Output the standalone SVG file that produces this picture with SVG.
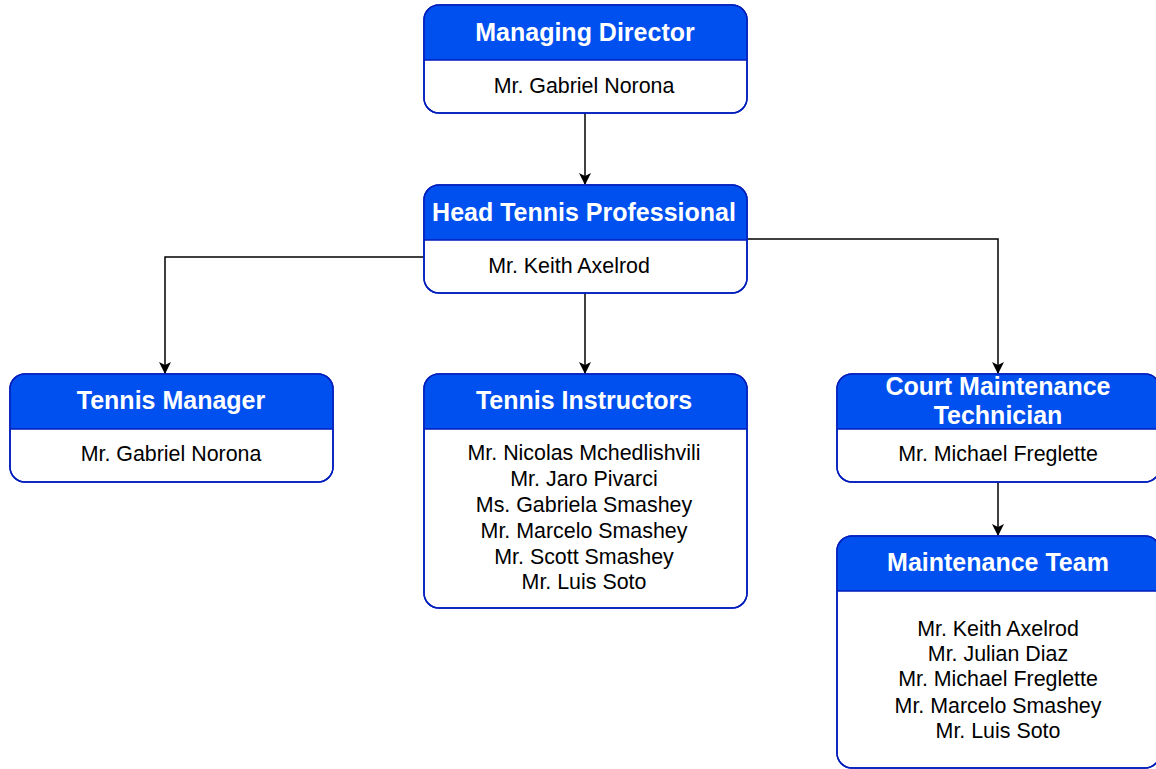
<svg xmlns="http://www.w3.org/2000/svg" width="1156" height="769" viewBox="0 0 1156 769">
<defs>
<style>
.box{fill:#ffffff;stroke:#001DBC;stroke-width:1.5}
.hdr{fill:#0050EF}
.sep{stroke:#001DBC;stroke-width:1.5}
.ht{font-family:"Liberation Sans",Arial,sans-serif;font-size:25px;font-weight:bold;fill:#ffffff;text-anchor:middle}
.bt{font-family:"Liberation Sans",Arial,sans-serif;font-size:21.4px;fill:#000000;text-anchor:middle}
.edge{fill:none;stroke:#000000;stroke-width:1.5}
</style>
<marker id="arr" viewBox="0 0 12 12" refX="11" refY="6" markerWidth="12" markerHeight="12" markerUnits="userSpaceOnUse" orient="auto">
<path d="M0,0 L12,6 L0,12 L3,6 Z" fill="#000"/>
</marker>
<clipPath id="c1"><rect x="424" y="5" width="323" height="108" rx="15"/></clipPath>
<clipPath id="c2"><rect x="424" y="185" width="323" height="108" rx="15"/></clipPath>
<clipPath id="c3"><rect x="10" y="374" width="323" height="108" rx="15"/></clipPath>
<clipPath id="c4"><rect x="424" y="374" width="323" height="234" rx="15"/></clipPath>
<clipPath id="c5"><rect x="837" y="374" width="323" height="108" rx="15"/></clipPath>
<clipPath id="c6"><rect x="837" y="536" width="323" height="232" rx="15"/></clipPath>
</defs>
<g id="connectors">
<path class="edge" d="M585,113 L585,184" marker-end="url(#arr)"/>
<path class="edge" d="M424,257 L165,257 L165,373" marker-end="url(#arr)"/>
<path class="edge" d="M585,293 L585,373" marker-end="url(#arr)"/>
<path class="edge" d="M747,239 L998,239 L998,373" marker-end="url(#arr)"/>
<path class="edge" d="M998,482 L998,535" marker-end="url(#arr)"/>
</g>
<g id="managing-director">
<rect class="box" x="424" y="5" width="323" height="108" rx="15"/>
<rect class="hdr" x="424" y="5" width="323" height="55" clip-path="url(#c1)"/>
<rect x="424" y="5" width="323" height="108" rx="15" fill="none" stroke="#001DBC" stroke-width="1.5"/>
<line class="sep" x1="424" y1="60" x2="747" y2="60"/>
<text class="ht" x="585" y="41">Managing Director</text>
<text class="bt" x="584" y="93">Mr. Gabriel Norona</text>
</g>
<g id="head-tennis-professional">
<rect class="box" x="424" y="185" width="323" height="108" rx="15"/>
<rect class="hdr" x="424" y="185" width="323" height="55" clip-path="url(#c2)"/>
<rect x="424" y="185" width="323" height="108" rx="15" fill="none" stroke="#001DBC" stroke-width="1.5"/>
<line class="sep" x1="424" y1="240" x2="747" y2="240"/>
<text class="ht" x="584" y="221">Head Tennis Professional</text>
<text class="bt" x="569" y="273">Mr. Keith Axelrod</text>
</g>
<g id="tennis-manager">
<rect class="box" x="10" y="374" width="323" height="108" rx="15"/>
<rect class="hdr" x="10" y="374" width="323" height="55" clip-path="url(#c3)"/>
<rect x="10" y="374" width="323" height="108" rx="15" fill="none" stroke="#001DBC" stroke-width="1.5"/>
<line class="sep" x1="10" y1="429" x2="333" y2="429"/>
<text class="ht" x="171" y="409">Tennis Manager</text>
<text class="bt" x="171" y="461">Mr. Gabriel Norona</text>
</g>
<g id="tennis-instructors">
<rect class="box" x="424" y="374" width="323" height="234" rx="15"/>
<rect class="hdr" x="424" y="374" width="323" height="55" clip-path="url(#c4)"/>
<rect x="424" y="374" width="323" height="234" rx="15" fill="none" stroke="#001DBC" stroke-width="1.5"/>
<line class="sep" x1="424" y1="429" x2="747" y2="429"/>
<text class="ht" x="584" y="409">Tennis Instructors</text>
<text class="bt" x="584" y="460">Mr. Nicolas Mchedlishvili</text>
<text class="bt" x="584" y="486">Mr. Jaro Pivarci</text>
<text class="bt" x="584" y="512">Ms. Gabriela Smashey</text>
<text class="bt" x="584" y="538">Mr. Marcelo Smashey</text>
<text class="bt" x="584" y="564">Mr. Scott Smashey</text>
<text class="bt" x="584" y="589">Mr. Luis Soto</text>
</g>
<g id="court-maintenance-technician">
<rect class="box" x="837" y="374" width="323" height="108" rx="15"/>
<rect class="hdr" x="837" y="374" width="323" height="55" clip-path="url(#c5)"/>
<rect x="837" y="374" width="323" height="108" rx="15" fill="none" stroke="#001DBC" stroke-width="1.5"/>
<line class="sep" x1="837" y1="429" x2="1160" y2="429"/>
<text class="ht" x="998" y="395">Court Maintenance</text>
<text class="ht" x="998" y="424">Technician</text>
<text class="bt" x="998" y="461">Mr. Michael Freglette</text>
</g>
<g id="maintenance-team">
<rect class="box" x="837" y="536" width="323" height="232" rx="15"/>
<rect class="hdr" x="837" y="536" width="323" height="55" clip-path="url(#c6)"/>
<rect x="837" y="536" width="323" height="232" rx="15" fill="none" stroke="#001DBC" stroke-width="1.5"/>
<line class="sep" x1="837" y1="591" x2="1160" y2="591"/>
<text class="ht" x="998" y="571">Maintenance Team</text>
<text class="bt" x="998" y="636">Mr. Keith Axelrod</text>
<text class="bt" x="998" y="661">Mr. Julian Diaz</text>
<text class="bt" x="998" y="686">Mr. Michael Freglette</text>
<text class="bt" x="998" y="713">Mr. Marcelo Smashey</text>
<text class="bt" x="998" y="738">Mr. Luis Soto</text>
</g>
</svg>
